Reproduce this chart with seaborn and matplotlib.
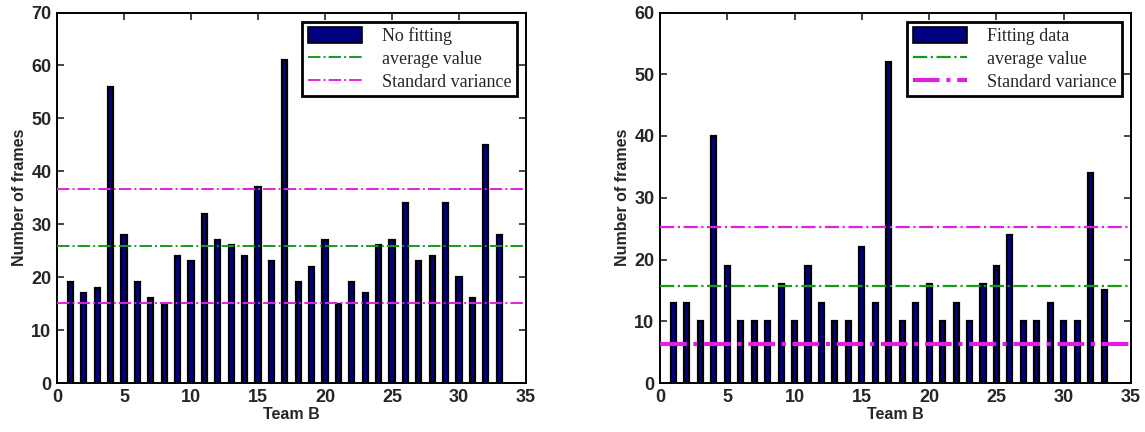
#Import Libraries
import numpy as np
import matplotlib
matplotlib.use("Agg")
import matplotlib.pyplot as plt
import seaborn as sns
from matplotlib.patches import Patch
from matplotlib.lines import Line2D

#Data
team = list(range(1, 34))
no_fitting = [19, 17, 18, 56, 28, 19, 16, 15, 24, 23, 32, 27, 26, 24, 37, 23, 61,
              19, 22, 27, 15, 19, 17, 26, 27, 34, 23, 24, 34, 20, 16, 45, 28]
fitting = [13, 13, 10, 40, 19, 10, 10, 10, 16, 10, 19, 13, 10, 10, 22, 13, 52,
           10, 13, 16, 10, 13, 10, 16, 19, 24, 10, 10, 13, 10, 10, 34, 15]

avg_left = 25.9
std_left = [15.1, 36.7]
avg_right = 15.7
std_right = [6.3, 25.2]

#Style
sns.set_style("ticks")
plt.rcParams['font.family'] = ['Liberation Sans', 'DejaVu Sans']

bar_color = '#000080'
green = '#1a9a1a'
magenta = '#e020e0'

fig = plt.figure(figsize=(11.45, 4.32), dpi=100)
ax1 = fig.add_axes([57 / 1145, 1 - 383 / 432, 469 / 1145, 370.5 / 432])
ax2 = fig.add_axes([660 / 1145, 1 - 383 / 432, 471 / 1145, 370.5 / 432])


def draw_panel(ax, values, avg, std, ymax, label, std_widths, avg_width):
    sns.barplot(x=team, y=values, native_scale=True, width=0.38, color=bar_color,
                saturation=1, edgecolor='black', linewidth=1.6, ax=ax, zorder=2)
    ax.axhline(avg, color=green, linestyle='-.', linewidth=avg_width, zorder=3)
    for s, lw in zip(std, std_widths):
        ax.axhline(s, color=magenta, linestyle='-.', linewidth=lw, zorder=3)

    ax.set_xlim(0, 35)
    ax.set_ylim(0, ymax)
    ax.set_xticks(np.arange(0, 36, 5))
    ax.set_yticks(np.arange(0, ymax + 1, 10))
    ax.tick_params(direction='in', top=True, right=True, length=5, width=1.2,
                   labelsize=13, pad=4)
    for t in ax.get_xticklabels() + ax.get_yticklabels():
        t.set_fontweight('bold')
    for sp in ax.spines.values():
        sp.set_visible(True)
        sp.set_linewidth(1.4)
        sp.set_color('black')

    ax.set_xlabel("Team B", fontsize=11.5, fontweight='bold', labelpad=1)
    ax.set_ylabel("Number of frames", fontsize=11.5, fontweight='bold', labelpad=3)

    handles = [
        Patch(facecolor=bar_color, edgecolor='black', linewidth=1.2),
        Line2D([0], [0], color=green, linestyle='-.', linewidth=avg_width),
        Line2D([0], [0], color=magenta, linestyle='-.', linewidth=max(std_widths)),
    ]
    leg = ax.legend(handles, [label, "average value", "Standard variance"],
                    loc='upper right', frameon=True, fancybox=False,
                    prop={'family': 'Liberation Serif', 'size': 13},
                    handlelength=3.0, handleheight=1.0, handletextpad=1.1,
                    labelspacing=0.25, borderpad=0.3, borderaxespad=0.5)
    leg.get_frame().set_edgecolor('black')
    leg.get_frame().set_linewidth(2.0)
    leg.get_frame().set_alpha(1)


draw_panel(ax1, no_fitting, avg_left, std_left, 70, "No fitting", [1.4, 1.4], 1.4)
draw_panel(ax2, fitting, avg_right, std_right, 60, "Fitting data", [3.0, 1.6], 1.6)

plt.savefig("out.png", dpi=100)
